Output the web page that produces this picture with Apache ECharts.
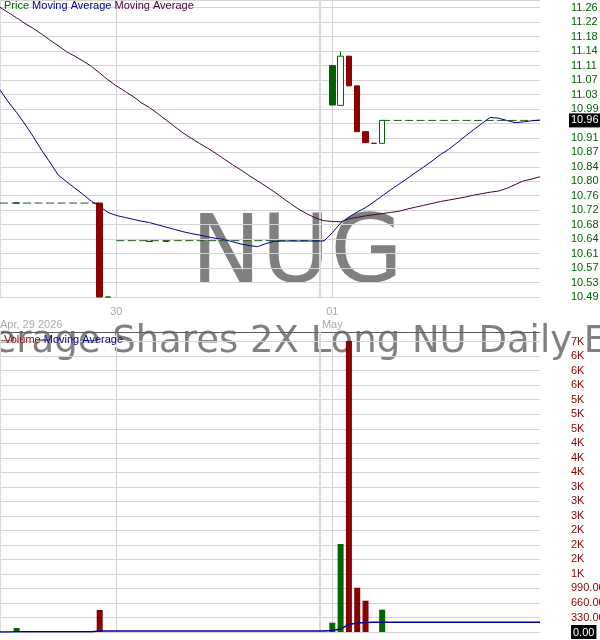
<!DOCTYPE html>
<html><head><meta charset="utf-8">
<script src="https://cdn.jsdelivr.net/npm/echarts@6/dist/echarts.min.js"></script>
<style>html,body{margin:0;padding:0;background:#fff}#c{width:600px;height:640px}</style>
</head><body><div id="c"></div>
<script>
// ---------- data ----------
const symbolName = 'NUG';
const fundName = 'Leverage Shares 2X Long NU Daily ETF';
const sessionDays = ['2026-04-29', '2026-04-30', '2026-05-01'];
const sessionFirstBar = ['12:30', '09:30', '09:30'];
const sessionLastBar = '15:45';
const barMinutes = 15;
const monthNames = ['Jan','Feb','Mar','Apr','May','Jun','Jul','Aug','Sep','Oct','Nov','Dec'];

// bars with trades (slot index into categories)
const tradeSlot   = [2, 12, 13, 18, 20, 40, 41, 42, 43, 44, 45, 46];
const tradeOpen   = [10.74, 10.74, 10.49, 10.638, 10.638, 11.106, 11.000, 11.131, 11.052, 10.930, 10.899, 10.899];
const tradeClose  = [10.74, 10.49, 10.49, 10.638, 10.638, 11.001, 11.131, 11.052, 10.930, 10.901, 10.899, 10.960];
const tradeLow    = [10.74, 10.49, 10.49, 10.638, 10.638, 11.001, 11.000, 11.052, 10.930, 10.901, 10.899, 10.899];
const tradeHigh   = [10.74, 10.74, 10.49, 10.638, 10.638, 11.106, 11.143, 11.131, 11.052, 10.930, 10.899, 10.960];
const tradeVolume = [90, 500, 0, 0, 0, 211, 2000, 6616, 1007, 712, 0, 507];

// periods without trades (last price carried, dashed)
const idleStart = [0, 14, 46];
const idleEnd   = [12, 39, 65];
const idlePrice = [10.74, 10.64, 10.96];

const priceMaFast = [11.041, 11.009, 10.981, 10.950, 10.917, 10.881, 10.849, 10.815, 10.797, 10.780,
  10.763, 10.745, 10.731, 10.715, 10.707, 10.702, 10.697, 10.692, 10.688, 10.682,
  10.676, 10.670, 10.664, 10.659, 10.655, 10.650, 10.646, 10.643, 10.637, 10.631,
  10.627, 10.624, 10.632, 10.638, 10.639, 10.639, 10.639, 10.639, 10.639, 10.639,
  10.661, 10.687, 10.703, 10.716, 10.728, 10.743, 10.759, 10.775, 10.790, 10.805,
  10.821, 10.836, 10.852, 10.869, 10.883, 10.900, 10.918, 10.935, 10.952, 10.968,
  10.966, 10.960, 10.954, 10.956, 10.959, 10.961];
const priceMaSlow = [11.261, 11.247, 11.233, 11.218, 11.205, 11.190, 11.174, 11.159, 11.143, 11.131,
  11.118, 11.104, 11.086, 11.068, 11.052, 11.038, 11.024, 11.007, 10.994, 10.978,
  10.961, 10.944, 10.927, 10.913, 10.899, 10.886, 10.872, 10.857, 10.842, 10.828,
  10.813, 10.799, 10.785, 10.770, 10.754, 10.738, 10.723, 10.711, 10.700, 10.693,
  10.691, 10.690, 10.698, 10.702, 10.706, 10.709, 10.712, 10.715, 10.718, 10.724,
  10.729, 10.734, 10.739, 10.744, 10.748, 10.752, 10.756, 10.761, 10.765, 10.769,
  10.772, 10.779, 10.789, 10.799, 10.804, 10.810];
const volumeMa = [0, 0, 5, 5, 5, 5, 5, 5, 5, 5,
  5, 5, 25, 25, 25, 25, 25, 25, 25, 25,
  25, 25, 25, 25, 25, 25, 25, 25, 25, 25,
  25, 25, 25, 25, 25, 25, 25, 25, 25, 25,
  35, 70, 170, 205, 218, 222, 222, 222, 222, 222,
  222, 222, 222, 222, 222, 222, 222, 222, 222, 222,
  222, 222, 222, 222, 222, 222];

const separatorSlots = [0, 38.5];

const priceMin = 10.49, priceStep = 0.0385, priceMax = 11.2805;
const priceTickLabels = ['10.49','10.53','10.57','10.61','10.64','10.68','10.72','10.76','10.80','10.84',
  '10.87','10.91','10.95','10.99','11.03','11.07','11.11','11.14','11.18','11.22','11.26'];
const volStep = 330, volMax = 6820;
const volTickLabels = ['0.00','330.00','660.00','990.00','1K','2K','2K','2K','3K','3K','3K',
  '4K','4K','4K','5K','5K','5K','6K','6K','6K','7K'];

// ---------- build ----------
const categories = [];
sessionDays.forEach((d, k) => {
  const [h0, m0] = sessionFirstBar[k].split(':').map(Number);
  const [h1, m1] = sessionLastBar.split(':').map(Number);
  for (let t = h0 * 60 + m0; t <= h1 * 60 + m1; t += barMinutes) {
    const hh = String(Math.floor(t / 60)).padStart(2, '0');
    const mm = String(t % 60).padStart(2, '0');
    categories.push(d + ' ' + hh + ':' + mm);
  }
});
const N = categories.length;
const dayStarts = [];
categories.forEach((c, i) => { if (i > 0 && c.slice(0, 10) !== categories[i - 1].slice(0, 10)) dayStarts.push(i); });

const GREEN = '#006400', RED = '#8b0000';
const idleArr = new Array(N).fill(null);
idleStart.forEach((s, k) => { for (let i = s; i <= idleEnd[k]; i++) idleArr[i] = idlePrice[k]; });
const tradeAt = {};
tradeSlot.forEach((s, k) => tradeAt[s] = k);

const candleData = [], volumeData = [];
let lastPrice = null;
for (let i = 0; i < N; i++) {
  if (tradeAt[i] !== undefined) {
    const k = tradeAt[i];
    const o = tradeOpen[k], c = tradeClose[k];
    const prev = lastPrice == null ? c : lastPrice;
    const col = c >= prev ? GREEN : RED;
    const hollow = c > o;
    candleData.push({
      value: [o, c, tradeLow[k], tradeHigh[k]],
      itemStyle: { color: hollow ? '#ffffff' : col, color0: hollow ? '#ffffff' : col,
        borderColor: col, borderColor0: col, borderColorDoji: col }
    });
    volumeData.push(tradeVolume[k] > 0 ? { value: tradeVolume[k], itemStyle: { color: col } } : '-');
    lastPrice = c;
  } else {
    candleData.push('-');
    volumeData.push('-');
    if (idleArr[i] != null) lastPrice = idleArr[i];
  }
}
const lastClose = tradeClose[tradeClose.length - 1];

function fmtDate(c) {
  const y = c.slice(0, 4), m = +c.slice(5, 7), d = c.slice(8, 10);
  return monthNames[m - 1] + ', ' + (+d) + ' ' + y;
}
const labelIdx = [0].concat(dayStarts);

const gridLine = { color: '#d4d4d4', width: 1 };
const FONT = 'Liberation Sans, Arial, sans-serif';

const option = {
  animation: false,
  backgroundColor: '#ffffff',
  textStyle: { fontFamily: FONT },
  title: [
    { left: 4, top: 0, padding: 0,
      text: '{p|Price} {f|Moving Average} {s|Moving Average}',
      textStyle: { fontSize: 11, fontWeight: 'normal', fontFamily: FONT, color: '#333',
        rich: { p: { color: '#006400', fontSize: 11, fontFamily: FONT },
                f: { color: '#00008b', fontSize: 11, fontFamily: FONT },
                s: { color: '#45003f', fontSize: 11, fontFamily: FONT } } } },
    { left: 4, top: 334, padding: 0,
      text: '{v|Volume} {f|Moving Average}',
      textStyle: { fontSize: 11, fontWeight: 'normal', fontFamily: FONT, color: '#333',
        rich: { v: { color: '#8b0000', fontSize: 11, fontFamily: FONT },
                f: { color: '#00008b', fontSize: 11, fontFamily: FONT } } } }
  ],
  graphic: { elements: [
    { type: 'text', x: 297, y: 258, z: -10, silent: true,
      style: { text: symbolName, fontSize: 94, fontFamily: 'DejaVu Sans', fill: '#808080', align: 'center', verticalAlign: 'middle' } },
    { type: 'text', x: 290, y: 342, z: -10, silent: true,
      style: { text: fundName, fontSize: 37, fontFamily: 'DejaVu Sans', fill: '#808080', align: 'center', verticalAlign: 'middle' } }
  ] },
  grid: [
    { left: 0, right: 60, top: 0, height: 297, outerBoundsMode: 'none' },
    { left: 0, right: 60, top: 332, height: 300, outerBoundsMode: 'none' }
  ],
  xAxis: [
    { type: 'category', gridIndex: 0, data: categories, boundaryGap: false,
      axisLine: { show: false, onZero: false }, axisTick: { show: false },
      axisLabel: { interval: (i) => labelIdx.includes(i), color: '#aaaaaa', fontSize: 11, lineHeight: 13, margin: 8,
        fontFamily: FONT, alignMinLabel: 'left',
        formatter: (v, i) => {
          if (i === 0) return '\n' + fmtDate(v);
          const pos = dayStarts.indexOf(i);
          const prevDay = pos > 0 ? categories[dayStarts[pos - 1]] : categories[0];
          const day = v.slice(8, 10);
          if (v.slice(5, 7) !== prevDay.slice(5, 7)) return day + '\n' + monthNames[+v.slice(5, 7) - 1];
          return day;
        } },
      splitLine: { show: true, interval: (i) => dayStarts.includes(i), lineStyle: gridLine } },
    { type: 'category', gridIndex: 1, data: categories, boundaryGap: false, position: 'top',
      axisLine: { show: true, onZero: false, lineStyle: { color: '#5c5c5c', width: 1 } }, axisTick: { show: false },
      axisLabel: { show: false },
      splitLine: { show: true, interval: (i) => dayStarts.includes(i), lineStyle: gridLine } },
    { type: 'value', gridIndex: 0, min: 0, max: N - 1, show: false, splitLine: { show: false } },
    { type: 'value', gridIndex: 1, min: 0, max: N - 1, show: false, splitLine: { show: false } }
  ],
  yAxis: [
    { type: 'value', gridIndex: 0, position: 'right', min: priceMin, max: priceMax, interval: priceStep,
      axisLine: { show: false }, axisTick: { show: false },
      axisLabel: { color: '#006400', fontSize: 11, margin: 31, fontFamily: FONT,
        formatter: (v) => {
          const k = (v - priceMin) / priceStep, r = Math.round(k);
          if (Math.abs(k - r) > 1e-3 || r < 0 || r >= priceTickLabels.length) return '';
          if (Math.abs(v - lastClose) < priceStep / 2) return '';
          return priceTickLabels[r];
        } },
      splitLine: { show: true, lineStyle: gridLine } },
    { type: 'value', gridIndex: 1, position: 'right', min: 0, max: volMax, interval: volStep,
      axisLine: { show: false }, axisTick: { show: false },
      axisLabel: { color: '#8b0000', fontSize: 11, margin: 31, fontFamily: FONT,
        formatter: (v) => {
          const k = v / volStep, r = Math.round(k);
          if (Math.abs(k - r) > 1e-3 || r < 0 || r >= volTickLabels.length) return '';
          return r === 0 ? '{z|' + volTickLabels[0] + '}' : volTickLabels[r];
        },
        rich: { z: { color: '#ffffff', backgroundColor: '#000000', padding: [2, 2, 1, 2], fontSize: 11, fontFamily: FONT } } },
      splitLine: { show: true, lineStyle: gridLine } }
  ],
  series: [
    { type: 'line', xAxisIndex: 2, yAxisIndex: 0, data: [[0, priceMin]], symbol: 'none', lineStyle: { opacity: 0 }, silent: true,
      markLine: { silent: true, z: 1, symbol: ['none', 'none'], label: { show: false },
        lineStyle: { color: '#dadada', width: 2, type: 'solid' }, data: separatorSlots.map(s => ({ xAxis: s })) } },
    { type: 'line', xAxisIndex: 3, yAxisIndex: 1, data: [[0, 0]], symbol: 'none', lineStyle: { opacity: 0 }, silent: true,
      markLine: { silent: true, z: 1, symbol: ['none', 'none'], label: { show: false },
        lineStyle: { color: '#dadada', width: 2, type: 'solid' }, data: separatorSlots.map(s => ({ xAxis: s })) } },
    { name: 'Idle', type: 'line', xAxisIndex: 0, yAxisIndex: 0, data: idleArr, symbol: 'none', connectNulls: false, z: 2,
      lineStyle: { color: '#1e5a1e', width: 1, type: [8, 3.5] } },
    { name: 'Last', type: 'line', xAxisIndex: 0, yAxisIndex: 0, data: [], symbol: 'none', z: 6,
      markLine: { silent: true, symbol: ['none', 'none'], z: 6,
        lineStyle: { color: 'rgba(0,0,0,0)', width: 1, type: 'solid' },
        label: { show: true, position: 'end', distance: 29, formatter: lastClose.toFixed(2), color: '#ffffff',
          backgroundColor: '#000000', padding: [2, 2, 1, 2], fontSize: 11, fontFamily: FONT, opacity: 1 },
        data: [{ yAxis: lastClose }] } },
    { name: 'Moving Average Slow', type: 'line', xAxisIndex: 0, yAxisIndex: 0, data: priceMaSlow, symbol: 'none', z: 3,
      lineStyle: { color: '#45003f', width: 1 } },
    { name: 'Moving Average Fast', type: 'line', xAxisIndex: 0, yAxisIndex: 0, data: priceMaFast, symbol: 'none', z: 3,
      lineStyle: { color: '#00008b', width: 1 } },
    { name: 'Price', type: 'candlestick', xAxisIndex: 0, yAxisIndex: 0, data: candleData, barWidth: 6, z: 4,
      itemStyle: { borderWidth: 1 } },
    { name: 'Volume', type: 'bar', xAxisIndex: 1, yAxisIndex: 1, data: volumeData, barWidth: 6, z: 3 },
    { name: 'Volume MA', type: 'line', xAxisIndex: 1, yAxisIndex: 1, data: volumeMa, symbol: 'none', z: 4,
      lineStyle: { color: '#00008b', width: 1.5 } }
  ]
};
echarts.init(document.getElementById('c')).setOption(option);
</script></body></html>
